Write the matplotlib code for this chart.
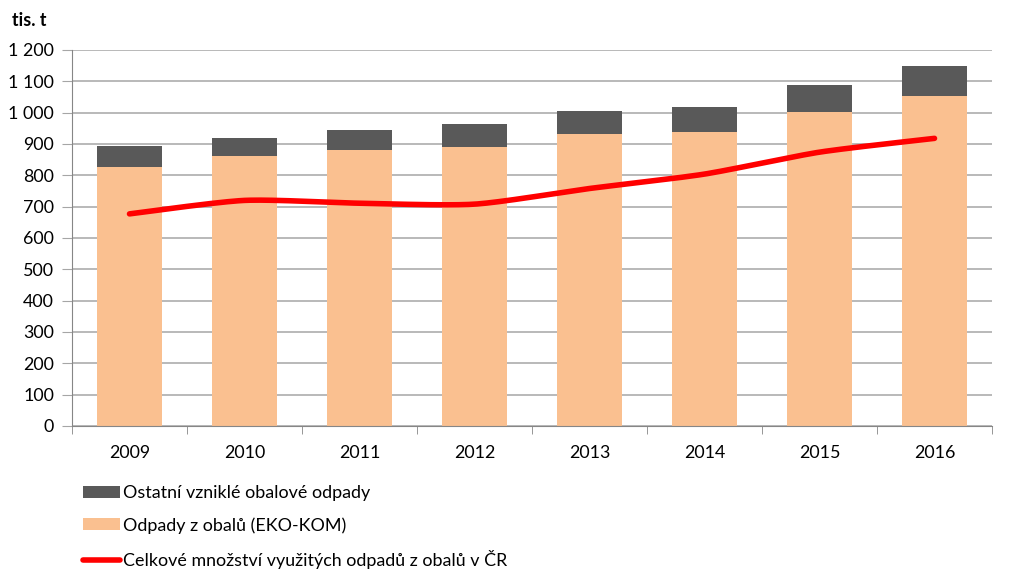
import numpy as np
import matplotlib
matplotlib.use("Agg")
import matplotlib.pyplot as plt
from matplotlib.patches import Patch
from matplotlib.lines import Line2D

plt.rcParams['font.family'] = ['Lato', 'DejaVu Sans']

years = ['2009', '2010', '2011', '2012', '2013', '2014', '2015', '2016']
eko_kom = [826, 862, 880, 891, 931, 939, 1002, 1053]
ostatni_total = [894, 920, 945, 963, 1004, 1019, 1088, 1148]
ostatni = [t - e for t, e in zip(ostatni_total, eko_kom)]
vyuzite = [677, 720, 711, 708, 758, 804, 874, 918]
yticks = [0, 100, 200, 300, 400, 500, 600, 700, 800, 900, 1000, 1100, 1200]
ytick_labels = ['0', '100', '200', '300', '400', '500', '600', '700', '800', '900',
                '1 000', '1 100', '1 200']

labels = ['Ostatní vzniklé obalové odpady', 'Odpady z obalů (EKO-KOM)',
          'Celkové množství využitých odpadů z obalů v ČR']

c_orange = '#FAC090'
c_dark = '#595959'
c_red = '#FF0000'
c_grid = '#A6A6A6'
c_axis = '#868686'
fs = 12.9

fig = plt.figure(figsize=(10.24, 5.8), dpi=100)
ax = fig.add_axes([72/1024, 1 - 426/580, (992 - 72)/1024, (426 - 50)/580])

x = np.arange(len(years))
w = 0.56
ax.bar(x, eko_kom, width=w, color=c_orange, zorder=2)
ax.bar(x, ostatni, width=w, bottom=eko_kom, color=c_dark, zorder=2)

# smooth rendering (cardinal spline, reduced tension) through the data points
def cardinal(xs, ys, k=0.3, n=30):
    xs = np.asarray(xs, float); ys = np.asarray(ys, float)
    P = np.column_stack([xs, ys])
    out = []
    N = len(P)
    for i in range(N - 1):
        p0 = P[i-1] if i > 0 else P[i]
        p3 = P[i+2] if i + 2 < N else P[i+1]
        p1, p2 = P[i], P[i+1]
        c1 = p1 + k * (p2 - p0) / 3
        c2 = p2 - k * (p3 - p1) / 3
        t = np.linspace(0, 1, n, endpoint=(i == N - 2))[:, None]
        out.append((1-t)**3*p1 + 3*(1-t)**2*t*c1 + 3*(1-t)*t**2*c2 + t**3*p2)
    out = np.vstack(out)
    return out[:, 0], out[:, 1]

sx, sy = cardinal(x, vyuzite, k=0.35)
ax.plot(sx, sy, color=c_red, lw=4.0, solid_capstyle='round', zorder=3)

ax.set_xlim(-0.5, len(years) - 0.5)
ax.set_ylim(0, 1200)
ax.set_yticks(yticks)
ax.set_yticklabels(ytick_labels, fontsize=fs, color='#000000')
ax.set_xticks(x)
ax.set_xticklabels(years, fontsize=fs, color='#000000')
ax.set_xticks(np.arange(-0.5, len(years), 1), minor=True)
ax.tick_params(axis='x', which='major', length=0, pad=14)
ax.tick_params(axis='x', which='minor', length=6, color=c_axis, direction='out')
ax.tick_params(axis='y', length=7, color=c_grid, pad=6)

ax.grid(axis='y', color=c_grid, lw=1.1, zorder=0)
ax.set_axisbelow(True)
for s in ['top', 'right']:
    ax.spines[s].set_visible(False)
ax.spines['left'].set_color(c_axis)
ax.spines['bottom'].set_color(c_axis)

fig.text(12/1024, 1 - 26/580, 'tis. t', fontsize=fs, fontweight='bold', ha='left', va='baseline')

handles = [Patch(facecolor=c_dark), Patch(facecolor=c_orange),
           Line2D([0], [0], color=c_red, lw=4.0, solid_capstyle='round')]
fig.legend(handles, labels, loc='upper left', bbox_to_anchor=(83/1024, 1 - 485/580),
           frameon=False, fontsize=fs, handlelength=2.05, handleheight=0.65,
           handletextpad=0.2, labelspacing=0.9, borderaxespad=0, borderpad=0)

fig.savefig('out.png', dpi=100)
